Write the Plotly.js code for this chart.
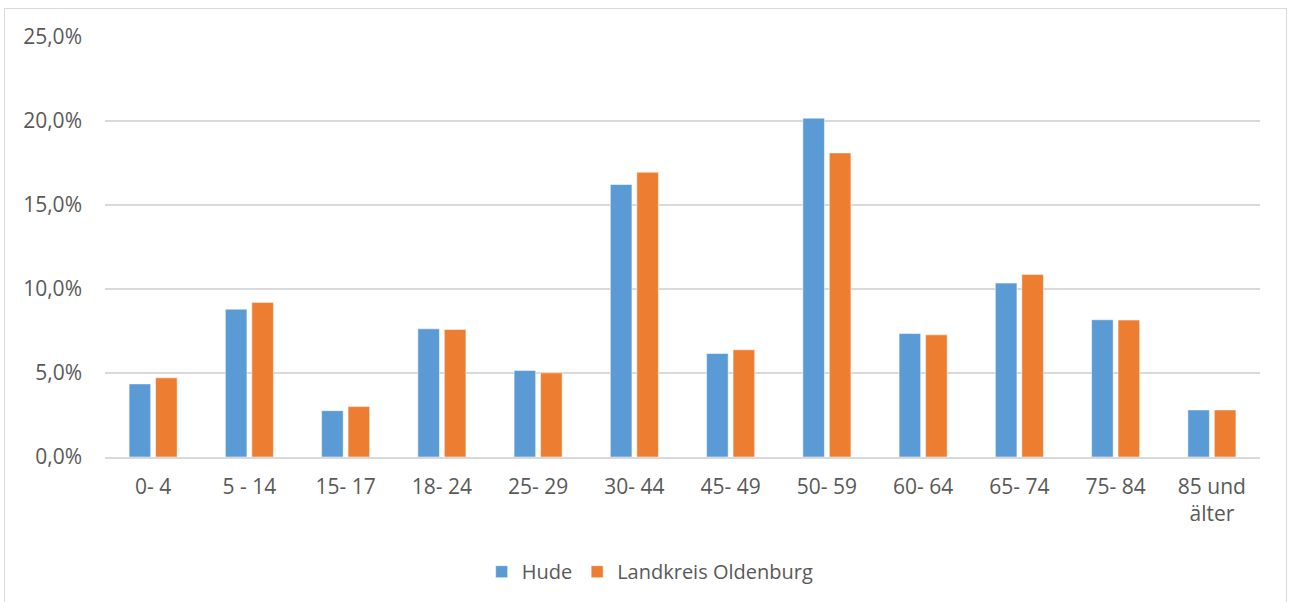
<!DOCTYPE html>
<html>
<head>
<meta charset="utf-8">
<script src="https://cdn.plot.ly/plotly-3.0.1.min.js"></script>
<style>
  html, body { margin: 0; padding: 0; background: #fff; }
  #wrap { position: relative; width: 1290px; height: 602px; }
  #chart { position: absolute; left: 0; top: 0; width: 1290px; height: 602px; }
  #frame { position: absolute; left: 4px; top: 8px; width: 1283px; height: 600px; border: 1px solid #d9d9d9; box-sizing: border-box; pointer-events: none; }
</style>
</head>
<body>
<div id="wrap">
  <div id="chart"></div>
  <div id="frame"></div>
</div>
<script>
const categories = ["0- 4", "5 - 14", "15- 17", "18- 24", "25- 29", "30- 44", "45- 49", "50- 59", "60- 64", "65- 74", "75- 84", "85 und<br>älter"];
const hude = [4.35, 8.80, 2.76, 7.63, 5.15, 16.22, 6.16, 20.17, 7.35, 10.35, 8.17, 2.80];
const landkreis = [4.71, 9.20, 3.00, 7.59, 5.01, 16.95, 6.38, 18.10, 7.27, 10.87, 8.15, 2.80];
const seriesNames = ["Hude", "Landkreis Oldenburg"];
const yTicks = [0, 5, 10, 15, 20, 25];
const yTickLabels = ["0,0%", "5,0%", "10,0%", "15,0%", "20,0%", "25,0%"];

const fam = "Open Sans, Lato, sans-serif";
const grey = "#595959";

const traces = [
  { type: "bar", name: seriesNames[0], x: categories, y: hude,
    marker: { color: "#5B9BD5", line: { color: "#ffffff", width: 0.5 } } },
  { type: "bar", name: seriesNames[1], x: categories, y: landkreis,
    marker: { color: "#ED7D31", line: { color: "#ffffff", width: 0.5 } } }
];

const layout = {
  width: 1290, height: 602,
  margin: { l: 105, r: 30, t: 37, b: 144, pad: 0 },
  paper_bgcolor: "rgba(0,0,0,0)", plot_bgcolor: "#ffffff",
  font: { family: fam, size: 20, color: grey },
  barmode: "group",
  bargap: 0.45,
  bargroupgap: 0.185,
  showlegend: true,
  legend: { orientation: "h", x: 0.472, xanchor: "center", y: -0.27, yanchor: "middle",
            font: { family: fam, size: 20, color: grey } },
  xaxis: {
    type: "category", showgrid: false, zeroline: false,
    showline: true, linecolor: "#d9d9d9", linewidth: 1.5,
    ticks: "", tickfont: { family: fam, size: 21, color: grey }, ticklabelstandoff: 10, fixedrange: true
  },
  yaxis: {
    range: [0, 25], tickmode: "array", tickvals: yTicks, ticktext: yTickLabels,
    showgrid: true, gridcolor: "#d9d9d9", gridwidth: 1.5,
    zeroline: false, showline: false, ticks: "",
    tickfont: { family: fam, size: 21, color: grey }, ticklabelstandoff: 22, fixedrange: true
  }
};

Plotly.newPlot("chart", traces, layout, { displayModeBar: false, staticPlot: true });
</script>
</body>
</html>
